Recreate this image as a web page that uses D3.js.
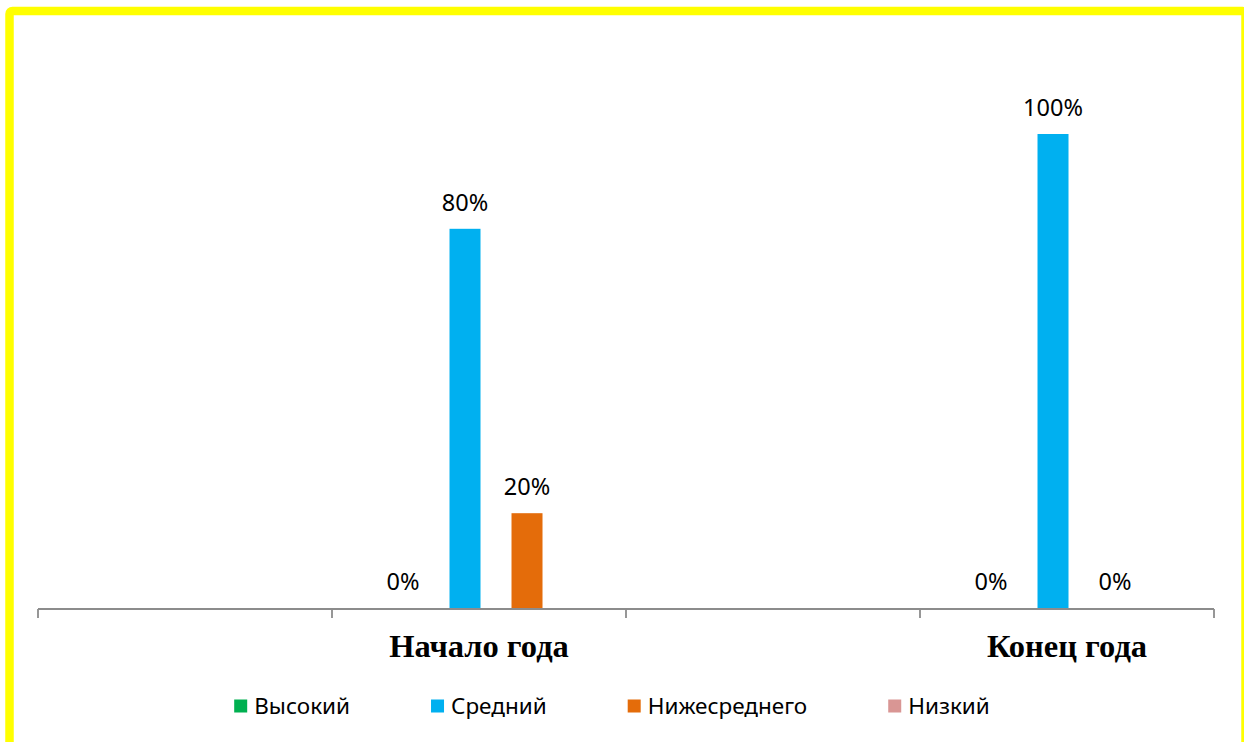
<!DOCTYPE html>
<html>
<head>
<meta charset="utf-8">
<script src="https://cdn.jsdelivr.net/npm/d3@7"></script>
<style>
  html, body { margin: 0; padding: 0; background: #fff; }
  svg { display: block; }
</style>
</head>
<body>
<svg id="chart" width="1244" height="742"></svg>
<script>
// ---- data ----
const categories = ["", "Начало года", "", "Конец года"];
const seriesNames = ["Высокий", "Средний", "Нижесреднего", "Низкий"];
const seriesColors = ["#00B050", "#00B0F0", "#E46C0A", "#D99694"];
const vysokiy = [null, 0, null, 0];
const sredniy = [null, 0.8, null, 1.0];
const nizheSrednego = [null, 0.2, null, 0];
const nizkiy = [null, null, null, null];
const seriesValues = [vysokiy, sredniy, nizheSrednego, nizkiy];

const W = 1244, H = 742;
const svg = d3.select("#chart");

// frame
svg.append("rect")
  .attr("x", 9.5).attr("y", 11)
  .attr("width", 1236).attr("height", 740)
  .attr("rx", 3)
  .attr("fill", "#fff")
  .attr("stroke", "#FFFF00")
  .attr("stroke-width", 8.5);

const plot = { left: 38, right: 1214, base: 608, top: 134 };

const x0 = d3.scaleBand()
  .domain(d3.range(categories.length))
  .range([plot.left, plot.right])
  .padding(0);

const bw = x0.bandwidth();
const x1 = d3.scaleBand()
  .domain(seriesNames)
  .range([bw * 0.1888, bw * 0.9269])
  .paddingInner(0.5)
  .paddingOuter(0);

const y = d3.scaleLinear().domain([0, 1]).range([plot.base, plot.top]);

// bars
const pct = d3.format(".0%");
seriesNames.forEach((name, si) => {
  const vals = seriesValues[si];
  const g = svg.append("g");
  vals.forEach((v, ci) => {
    if (v === null) return;
    const xb = x0(ci) + x1(name);
    if (v > 0) {
      g.append("rect")
        .attr("x", xb)
        .attr("y", y(v))
        .attr("width", x1.bandwidth())
        .attr("height", y(0) - y(v))
        .attr("fill", seriesColors[si]);
    }
    g.append("text")
      .attr("x", xb + x1.bandwidth() / 2)
      .attr("y", y(v) - 18)
      .attr("text-anchor", "middle")
      .attr("font-family", "'Noto Sans', sans-serif")
      .attr("font-size", 23.5)
      .attr("fill", "#000")
      .text(pct(v));
  });
});

// x axis
const axG = svg.append("g").attr("transform", `translate(0,${plot.base + 1})`);
axG.append("line")
  .attr("x1", plot.left).attr("x2", plot.right)
  .attr("y1", 0).attr("y2", 0)
  .attr("stroke", "#8C8C8C").attr("stroke-width", 1.8);
const tickPos = d3.range(categories.length + 1).map(i => plot.left + i * bw);
axG.selectAll("line.tick").data(tickPos).enter().append("line")
  .attr("class", "tick")
  .attr("x1", d => d).attr("x2", d => d)
  .attr("y1", 0).attr("y2", 9)
  .attr("stroke", "#8C8C8C").attr("stroke-width", 1.8);

// category labels
svg.append("g").selectAll("text").data(categories.map((c, i) => ({ c, i })).filter(d => d.c))
  .enter().append("text")
  .attr("x", d => x0(d.i) + bw / 2)
  .attr("y", 657)
  .attr("text-anchor", "middle")
  .attr("font-family", "'Liberation Serif', 'Times New Roman', serif")
  .attr("font-weight", "bold")
  .attr("font-size", 32.5)
  .attr("fill", "#000")
  .text(d => d.c);

// legend
const lg = svg.append("g");
const items = lg.selectAll("g").data(seriesNames).enter().append("g");
items.append("rect")
  .attr("width", 13).attr("height", 13)
  .attr("y", 699.5)
  .attr("fill", (d, i) => seriesColors[i]);
items.append("text")
  .attr("x", 20)
  .attr("y", 714)
  .attr("font-family", "'Noto Sans', sans-serif")
  .attr("font-size", 22.5)
  .attr("fill", "#000")
  .text(d => d);
const widths = [];
items.each(function () { widths.push(this.querySelector("text").getComputedTextLength() + 20); });
const gap = 81;
const total = d3.sum(widths) + gap * (widths.length - 1);
let cx = 612 - total / 2;
items.each(function (d, i) {
  d3.select(this).attr("transform", `translate(${cx},0)`);
  cx += widths[i] + gap;
});
</script>
</body>
</html>
